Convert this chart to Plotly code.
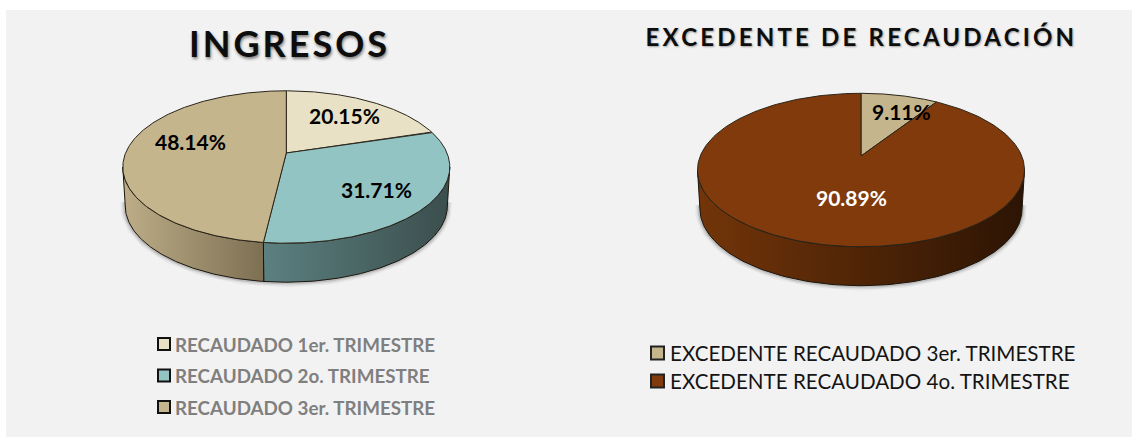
import numpy as np
import plotly.graph_objects as go

# ---------- data ----------
ingresos_labels = ["RECAUDADO 1er. TRIMESTRE", "RECAUDADO 2o. TRIMESTRE", "RECAUDADO 3er. TRIMESTRE"]
ingresos_values = [20.15, 31.71, 48.14]
excedente_labels = ["EXCEDENTE RECAUDADO 3er. TRIMESTRE", "EXCEDENTE RECAUDADO 4o. TRIMESTRE"]
excedente_values = [9.11, 90.89]
title_left = "INGRESOS"
title_right = "EXCEDENTE DE RECAUDACIÓN"

# ---------- style / layout ----------
W, H = 1132, 437
BG = "#F2F2F2"
ing_colors = ["#E9E1C5", "#93C4C4", "#C5B58C"]
ing_walls = [("#8F8A78", "#6F6A58"), ("#5C8080", "#3A4E4D"), ("#BDAE88", "#7D6F52")]
exc_colors = ["#C5B58C", "#803A0B"]
exc_walls = [("#7D6F52", "#6F6246"), ("#733509", "#2C1404")]
FONT = "Lato"

PIE_L = dict(cx=286.3, cy=167.0, rx=163.5, ry=76.2, d=14.0, depth=39.0)
PIE_R = dict(cx=861.0, cy=170.0, rx=163.5, ry=76.7, d=14.0, depth=39.0)
LABEL_POS_L = [(344, 115.5), (376, 189), (190, 141.5)]
LABEL_POS_R = [(901, 111.5), (851, 197)]
LABEL_COL_L = ["#000000", "#000000", "#000000"]
LABEL_COL_R = ["#000000", "#FFFFFF"]


def project(p, r, theta):
    """Tilted-disc projection: angle (radians, clockwise from top) to page position."""
    per = p["d"] / p["ry"]
    c = p["rx"] * np.sqrt(1 - per ** 2)
    X, Y = r * np.sin(theta), r * np.cos(theta)
    w = 1 + per * Y
    return p["cx"] + c * X / w, p["cy"] - (p["ry"] * Y + p["d"]) / w


def pie3d(fig, p, values, colors, walls):
    total = sum(values)
    edges = np.cumsum([0] + list(values)) / total * 2 * np.pi
    limit = np.arccos(-p["d"] / p["ry"])          # rim point at the widest part of the ellipse
    vis_a, vis_b = limit, 2 * np.pi - limit

    # soft shadow below the side wall
    t = np.linspace(vis_a - 0.05, vis_b + 0.05, 160)
    sx, sy = project(p, 1, t)
    sx = p["cx"] + (sx - p["cx"]) * 0.985
    sy = sy + p["depth"]
    for width, alpha in [(10, 0.04), (7, 0.07), (4, 0.12)]:
        fig.add_trace(go.Scatter(x=sx, y=sy, mode="lines", hoverinfo="skip", showlegend=False,
                                 line=dict(color=f"rgba(0,0,0,{alpha})", width=width)))

    # side walls
    for i in range(len(values)):
        a, b = max(edges[i], vis_a), min(edges[i + 1], vis_b)
        if b <= a:
            continue
        t = np.linspace(a, b, 120)
        tx, ty = project(p, 1, t)
        bx = p["cx"] + (tx - p["cx"]) * 0.985
        by = ty + p["depth"]
        x = np.concatenate([tx, bx[::-1], tx[:1]])
        y = np.concatenate([ty, by[::-1], ty[:1]])
        fig.add_trace(go.Scatter(
            x=x, y=y, mode="lines", fill="toself", hoverinfo="skip", showlegend=False,
            line=dict(color="#1a140c", width=1),
            fillgradient=dict(type="horizontal",
                              colorscale=[[0, walls[i][0]], [1, walls[i][1]]])))

    # top faces
    for i in range(len(values)):
        t = np.linspace(edges[i], edges[i + 1], 240)
        tx, ty = project(p, 1, t)
        ax, ay = project(p, 0, 0.0)
        x = np.concatenate([[ax], tx, [ax]])
        y = np.concatenate([[ay], ty, [ay]])
        fig.add_trace(go.Scatter(x=x, y=y, mode="lines", fill="toself", fillcolor=colors[i],
                                 hoverinfo="skip", showlegend=False,
                                 line=dict(color="#2a251a", width=1)))


fig = go.Figure()
pie3d(fig, PIE_L, ingresos_values, ing_colors, ing_walls)
pie3d(fig, PIE_R, excedente_values, exc_colors, exc_walls)

ann = []
for v, (x, y), c in zip(ingresos_values, LABEL_POS_L, LABEL_COL_L):
    ann.append(dict(x=x, y=y, text=f"<b>{v:.2f}%</b>", showarrow=False,
                    font=dict(family=FONT, size=21, color=c)))
for v, (x, y), c in zip(excedente_values, LABEL_POS_R, LABEL_COL_R):
    ann.append(dict(x=x, y=y, text=f"<b>{v:.2f}%</b>", showarrow=False,
                    font=dict(family=FONT, size=21, color=c)))

ann.append(dict(x=289, y=43, text=f"<b>{title_left}</b>", showarrow=False,
                font=dict(family=FONT, size=36, color="#0d0d0d", shadow="1px 2px 3px #808080")))
ann.append(dict(x=861.5, y=36, text=f"<b>{title_right}</b>", showarrow=False,
                font=dict(family=FONT, size=24, color="#0d0d0d", shadow="1px 1px 2px #a0a0a0")))

# legend entries
leg_l_y = [344, 375.5, 407]
leg_r_y = [353, 381]
for lab, col, y in zip(ingresos_labels, ing_colors, leg_l_y):
    fig.add_trace(go.Scatter(x=[164], y=[y], mode="markers", hoverinfo="skip", showlegend=False, name=lab,
                             marker=dict(symbol="square", size=12, color=col, line=dict(color="#111111", width=2))))
    ann.append(dict(x=172.8, y=y, text=f"<b>{lab}</b>", showarrow=False, xanchor="left",
                    font=dict(family=FONT, size=18.8, color="#7F7F7F")))
for lab, col, y in zip(excedente_labels, exc_colors, leg_r_y):
    fig.add_trace(go.Scatter(x=[657.5], y=[y], mode="markers", hoverinfo="skip", showlegend=False, name=lab,
                             marker=dict(symbol="square", size=13, color=col, line=dict(color="#222222", width=2))))
    ann.append(dict(x=667.5, y=y, text=lab, showarrow=False, xanchor="left",
                    font=dict(family=FONT, size=20.6, color="#141414")))

fig.update_layout(
    width=W, height=H, autosize=False,
    margin=dict(l=0, r=0, t=0, b=0),
    paper_bgcolor="#FFFFFF", plot_bgcolor="#FFFFFF",
    showlegend=False,
    xaxis=dict(range=[0, W], visible=False, fixedrange=True),
    yaxis=dict(range=[H, 0], visible=False, fixedrange=True),
    annotations=ann,
    shapes=[dict(type="rect", layer="below", x0=6, x1=W, y0=10, y1=H,
                 fillcolor=BG, line=dict(width=0))],
)

post = """
document.body.style.margin='0';
document.querySelectorAll('.annotation-text').forEach(function(t){
  var s=t.textContent;
  if(s==='INGRESOS'){t.style.letterSpacing='3px';}
  if(s.indexOf('EXCEDENTE DE')===0){t.style.letterSpacing='3.2px';}
});
"""
fig.write_html("out.html", post_script=post, config={"displayModeBar": False})
